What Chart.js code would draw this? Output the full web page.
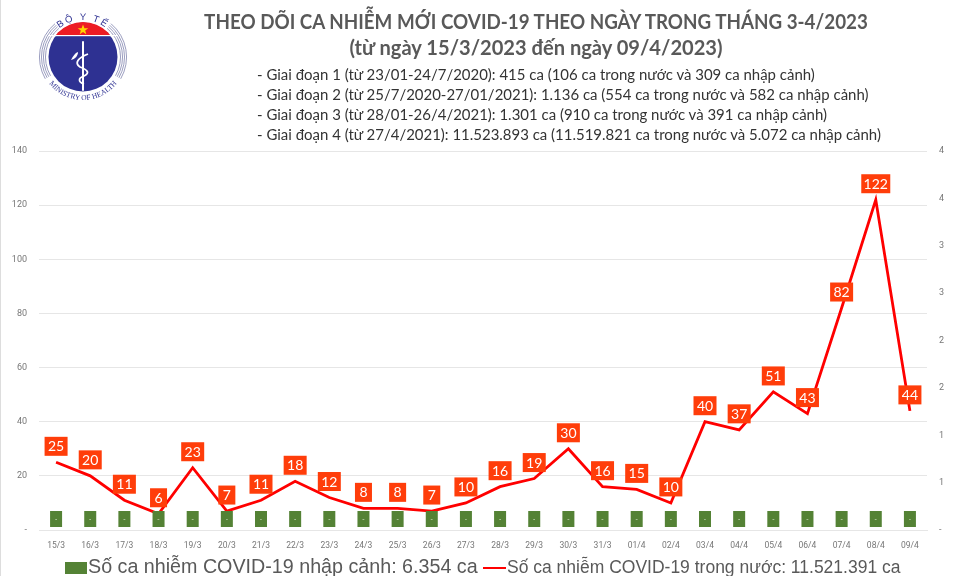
<!DOCTYPE html>
<html lang="vi">
<head>
<meta charset="utf-8">
<title>Covid-19 3-4/2023</title>
<script src="https://cdn.jsdelivr.net/npm/chart.js@4"></script>
<style>
  html, body { margin: 0; padding: 0; background: #fff; }
  #page { position: relative; width: 960px; height: 576px; overflow: hidden; background: #fff; }
  #page::before { content: ''; position: absolute; left: 0; top: 0; width: 1px; height: 576px; background: #ddd; }
  canvas { position: absolute; left: 0; top: 0; }
  #logo { position: absolute; left: 33px; top: 8px; }
  .title { position: absolute; left: 536px; transform: translateX(-50%) scaleX(0.917); white-space: nowrap; font: bold 20.5px Lato, sans-serif; color: #595959; }
  .period { position: absolute; left: 257px; transform: scaleX(0.965); transform-origin: left; white-space: nowrap; font: 15.5px Lato, sans-serif; color: #333; }
  .legend { position: absolute; white-space: nowrap; font-family: "Liberation Sans", sans-serif; color: #595959; }
  .swatch { position: absolute; }
</style>
</head>
<body>
<div id="page">
  <canvas id="chart" width="960" height="576"></canvas>

  <svg id="logo" width="100" height="100" viewBox="33 8 100 100">
    <defs>
      <path id="topArc" d="M 46 57 A 37 37 0 0 1 120 57"/>
      <path id="bottomArc" d="M 40 57 A 43 43 0 0 0 126 57"/>
      <clipPath id="disc"><circle cx="83" cy="57" r="35"/></clipPath>
    </defs>
    <g fill="none" stroke="#8f92b8" stroke-width="0.9">
      <path d="M 58.9 28.3 A 37.5 37.5 0 0 0 50.5 75.8"/><path d="M 57.6 26.7 A 39.5 39.5 0 0 0 48.8 76.8"/>
      <path d="M 56.3 25.2 A 41.5 41.5 0 0 0 47.1 77.8"/><path d="M 55 23.7 A 43.5 43.5 0 0 0 45.3 78.8"/>
      <path d="M 107.1 28.3 A 37.5 37.5 0 0 1 115.5 75.8"/><path d="M 108.4 26.7 A 39.5 39.5 0 0 1 117.2 76.8"/>
      <path d="M 109.7 25.2 A 41.5 41.5 0 0 1 118.9 77.8"/><path d="M 111 23.7 A 43.5 43.5 0 0 1 120.7 78.8"/>
    </g>
    <circle cx="83" cy="57" r="34.5" fill="#2e3192"/>
    <rect x="48" y="22" width="70" height="13" fill="#ed1c24" clip-path="url(#disc)"/>
    <rect x="48" y="35" width="70" height="1.2" fill="#fff"/>
    <polygon points="83,24.5 84.4,28.2 88.3,28.2 85.2,30.5 86.3,34.2 83,32 79.7,34.2 80.8,30.5 77.7,28.2 81.6,28.2" fill="#ffd400"/>
    <rect x="82" y="41" width="2" height="50" rx="1" fill="#fff"/>
    <path d="M 88 54 C 78 58 74 63 80 67 C 88 70 90 73 84 76 C 78 78 78 82 84 84" fill="none" stroke="#fff" stroke-width="1.8"/>
    <path d="M 78 52 C 75 53 73 56 71 60 C 75 59 78 56 78 52 Z" fill="#fff"/>
    <text font-family="Liberation Sans" font-size="9.5" fill="#2e3192"><textPath href="#topArc" startOffset="50%" text-anchor="middle" letter-spacing="2">BỘ Y TẾ</textPath></text>
    <text font-family="Liberation Serif" font-size="7.5" fill="#2e3192"><textPath href="#bottomArc" startOffset="50%" text-anchor="middle">MINISTRY OF HEALTH</textPath></text>
  </svg>

  <div class="title" style="top:9px">THEO DÕI CA NHIỄM MỚI COVID-19 THEO NGÀY TRONG THÁNG 3-4/2023</div>
  <div class="title" style="top:35px;transform:translateX(-50%) scaleX(0.98)">(từ ngày 15/3/2023 đến ngày 09/4/2023)</div>
  <div class="period" style="top:65px">- Giai đoạn 1 (từ 23/01-24/7/2020): 415 ca (106 ca trong nước và 309 ca nhập cảnh)</div>
  <div class="period" style="top:85px">- Giai đoạn 2 (từ 25/7/2020-27/01/2021): 1.136 ca (554 ca trong nước và 582 ca nhập cảnh)</div>
  <div class="period" style="top:105px">- Giai đoạn 3 (từ 28/01-26/4/2021): 1.301 ca (910 ca trong nước và 391 ca nhập cảnh)</div>
  <div class="period" style="top:125px">- Giai đoạn 4 (từ 27/4/2021): 11.523.893 ca (11.519.821 ca trong nước và 5.072 ca nhập cảnh)</div>

  <div class="swatch" style="left:65px;top:562px;width:22px;height:12px;background:#548235"></div>
  <div class="legend" style="left:88px;top:555px;font-size:19.7px">Số ca nhiễm COVID-19 nhập cảnh: 6.354 ca</div>
  <div class="swatch" style="left:483px;top:567px;width:23px;height:2px;background:#f00"></div>
  <div class="legend" style="left:507px;top:557px;font-size:17.5px">Số ca nhiễm COVID-19 trong nước: 11.521.391 ca</div>
</div>

<script>
const dates = ['15/3','16/3','17/3','18/3','19/3','20/3','21/3','22/3','23/3','24/3','25/3','26/3','27/3','28/3','29/3','30/3','31/3','01/4','02/4','03/4','04/4','05/4','06/4','07/4','08/4','09/4'];
const domesticCases = [25,20,11,6,23,7,11,18,12,8,8,7,10,16,19,30,16,15,10,40,37,51,43,82,122,44];
const importedCases = [0,0,0,0,0,0,0,0,0,0,0,0,0,0,0,0,0,0,0,0,0,0,0,0,0,0];

// draws the boxed value labels on top of the datasets
const boxLabels = {
  id: 'boxLabels',
  afterDatasetsDraw(chart) {
    const ctx = chart.ctx;
    ctx.save();
    ctx.textAlign = 'center';
    ctx.textBaseline = 'middle';

    chart.getDatasetMeta(0).data.forEach(bar => {
      ctx.fillStyle = '#548235';
      ctx.fillRect(bar.x - 6, bar.y - 19, 12, 16);
      ctx.fillStyle = '#d5e3c8';
      ctx.font = '7px "Liberation Sans"';
      ctx.fillText('-', bar.x, bar.y - 11);
    });

    ctx.font = '14px Lato';
    chart.getDatasetMeta(1).data.forEach((pt, i) => {
      const text = String(domesticCases[i]);
      const w = text.length === 1 ? 17 : text.length === 2 ? 23 : 29;
      ctx.fillStyle = '#ff3d0a';
      ctx.fillRect(pt.x - w / 2, pt.y - 25.5, w, 19);
      ctx.fillStyle = '#fff';
      ctx.fillText(text, pt.x, pt.y - 15.5);
    });
    ctx.restore();
  }
};

new Chart(document.getElementById('chart'), {
  type: 'bar',
  data: {
    labels: dates,
    datasets: [
      { type: 'bar', label: 'Số ca nhiễm COVID-19 nhập cảnh', data: importedCases, backgroundColor: '#548235', yAxisID: 'y1', order: 2 },
      { type: 'line', label: 'Số ca nhiễm COVID-19 trong nước', data: domesticCases, borderColor: '#f00', borderWidth: 2.8, pointRadius: 0, tension: 0, fill: false, yAxisID: 'y', order: 1 }
    ]
  },
  options: {
    responsive: false,
    animation: false,
    layout: { padding: { top: 151, left: 0, right: 0, bottom: 0 } },
    scales: {
      x: {
        grid: { display: false },
        border: { color: '#e6e6e6', width: 1 },
        ticks: { color: '#777', font: { family: 'Roboto', size: 8.5 }, autoSkip: false, maxRotation: 0, padding: 3 },
        afterFit(scale) { scale.height = 46; }
      },
      y: {
        position: 'left',
        min: 0,
        max: 140,
        grid: { color: '#e6e6e6', drawTicks: false },
        border: { display: false },
        ticks: { stepSize: 20, color: '#777', font: { family: 'Roboto', size: 9 }, padding: 12, callback: v => v === 0 ? '-' : v },
        afterFit(scale) { scale.width = 39; }
      },
      y1: {
        position: 'right',
        min: 0,
        max: 4,
        grid: { display: false },
        border: { display: false },
        ticks: { stepSize: 0.5, color: '#777', font: { family: 'Roboto', size: 9 }, padding: 4, callback: v => v === 0 ? '-' : Math.round(v) },
        afterFit(scale) { scale.width = 33; }
      }
    },
    plugins: {
      legend: { display: false },
      tooltip: { enabled: false }
    }
  },
  plugins: [boxLabels]
});
</script>
</body>
</html>
